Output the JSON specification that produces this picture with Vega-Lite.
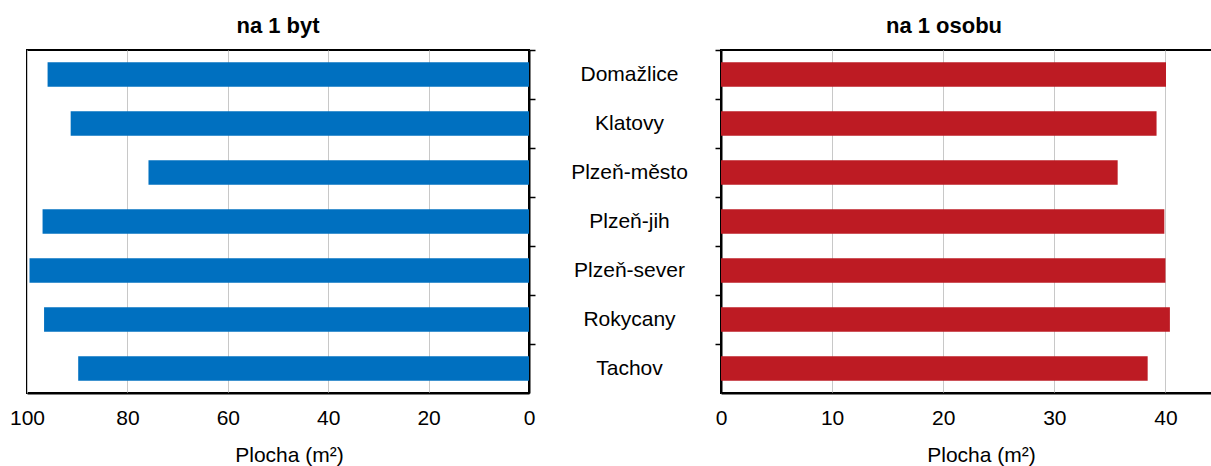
{
  "$schema": "https://vega.github.io/schema/vega-lite/v6.json",
  "padding": {"left": 8, "top": 14, "right": 0, "bottom": 5},
  "background": "white",
  "bounds": "flush",
  "spacing": 192,
  "data": {
    "values": [
      {"okres": "Domažlice", "byt": 95.9, "osoba": 40.05},
      {"okres": "Klatovy", "byt": 91.3, "osoba": 39.2},
      {"okres": "Plzeň-město", "byt": 75.8, "osoba": 35.7},
      {"okres": "Plzeň-jih", "byt": 96.9, "osoba": 39.9},
      {"okres": "Plzeň-sever", "byt": 99.5, "osoba": 40.0},
      {"okres": "Rokycany", "byt": 96.6, "osoba": 40.4},
      {"okres": "Tachov", "byt": 89.8, "osoba": 38.4}
    ]
  },
  "config": {
    "font": "Liberation Sans",
    "view": {"stroke": "#000000", "strokeWidth": 2},
    "axis": {
      "labelFont": "Liberation Sans",
      "labelFontSize": 21,
      "labelColor": "#000000",
      "titleFont": "Liberation Sans",
      "titleFontSize": 21,
      "titleFontWeight": "normal",
      "titleColor": "#000000"
    },
    "title": {
      "font": "Liberation Sans",
      "fontSize": 22,
      "fontWeight": "bold",
      "color": "#000000",
      "baseline": "alphabetic",
      "offset": 11,
      "anchor": "middle"
    }
  },
  "hconcat": [
    {
      "title": {"text": "na 1 byt", "dx": 0},
      "width": 502,
      "height": 343,
      "mark": {"type": "bar", "color": "#0070C0"},
      "encoding": {
        "y": {
          "field": "okres",
          "type": "nominal",
          "sort": null,
          "scale": {"paddingInner": 0.5, "paddingOuter": 0.25},
          "axis": {
            "orient": "right",
            "title": null,
            "bandPosition": 0,
            "tickOffset": -12.25,
            "labelOffset": 12.25,
            "tickSize": 6,
            "tickColor": "#000000",
            "tickWidth": 1.5,
            "domainColor": "#000000",
            "domainWidth": 2,
            "labelAlign": "center",
            "labelBaseline": "middle",
            "labelPadding": 94,
            "grid": false
          }
        },
        "x": {
          "field": "byt",
          "type": "quantitative",
          "scale": {"domain": [0, 100], "reverse": true, "nice": false},
          "axis": {
            "values": [0, 20, 40, 60, 80, 100],
            "title": "Plocha (m²)",
            "titlePadding": 16,
            "titleAnchor": "start",
            "titleX": 262,
            "titleAlign": "center",
            "labelFlush": false,
            "labelPadding": 14,
            "ticks": false,
            "tickSize": 0,
            "domainColor": "#000000",
            "domainWidth": 2,
            "grid": true,
            "gridColor": "#c8c8c8",
            "gridWidth": 1
          }
        }
      }
    },
    {
      "title": {"text": "na 1 osobu", "dx": -27},
      "width": 500,
      "height": 343,
      "mark": {"type": "bar", "color": "#BD1B23"},
      "encoding": {
        "y": {
          "field": "okres",
          "type": "nominal",
          "sort": null,
          "scale": {"paddingInner": 0.5, "paddingOuter": 0.25},
          "axis": {
            "orient": "left",
            "title": null,
            "labels": false,
            "bandPosition": 0,
            "tickOffset": -12.25,
            "tickSize": 6,
            "tickColor": "#000000",
            "tickWidth": 1.5,
            "domainColor": "#000000",
            "domainWidth": 2,
            "grid": false
          }
        },
        "x": {
          "field": "osoba",
          "type": "quantitative",
          "scale": {"domain": [0, 45], "nice": false},
          "axis": {
            "values": [0, 10, 20, 30, 40],
            "title": "Plocha (m²)",
            "titlePadding": 16,
            "titleAnchor": "start",
            "titleX": 260,
            "titleAlign": "center",
            "labelFlush": false,
            "labelPadding": 14,
            "ticks": false,
            "tickSize": 0,
            "domainColor": "#000000",
            "domainWidth": 2,
            "grid": true,
            "gridColor": "#c8c8c8",
            "gridWidth": 1
          }
        }
      }
    }
  ]
}
